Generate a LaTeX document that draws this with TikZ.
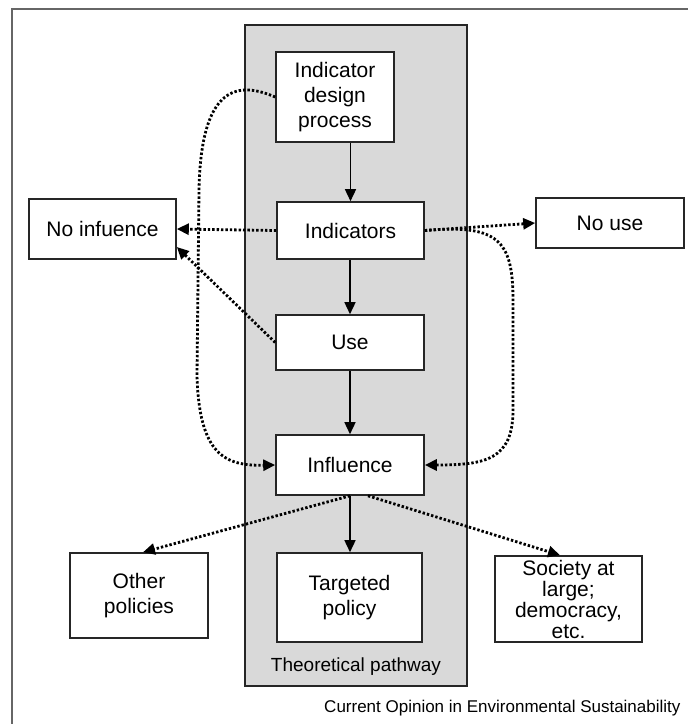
\documentclass[tikz,border=0pt]{standalone}
\usepackage{fontspec}
\setmainfont{Liberation Sans}
\usetikzlibrary{arrows.meta}
\begin{document}
\begin{tikzpicture}[x=1pt,y=-1pt,
  box/.style={draw=black!85,line width=1.6pt,fill=white,align=center,
    inner sep=0pt,font=\fontsize{21}{25}\selectfont},
  solidarrow/.style={line width=1.5pt,-{Triangle[length=12pt,width=11pt]}},
  dotarrow/.style={line width=2.8pt,dash pattern=on 2.4pt off 2pt,
    -{Triangle[length=12pt,width=11pt]}}]
\useasboundingbox (0,0) rectangle (688,724);
% outer frame
\draw[black!60,line width=1.2pt] (12,724) -- (12,9) -- (688,9);
% theoretical pathway panel
\node[draw=black!85,line width=1.8pt,fill=gray!30,minimum width=222pt,minimum height=661pt,inner sep=0pt]
  (panel) at (356,355.5) {};
\node[font=\fontsize{19}{22}\selectfont] (paneltitle) at (356,667) {Theoretical pathway};
% boxes
\node[box,minimum width=118pt,minimum height=90pt] (design) at (335,97) {Indicator\\design\\process};
\node[box,minimum width=147pt,minimum height=57pt] (ind) at (350.5,230.5) {Indicators};
\node[box,minimum width=147pt,minimum height=60pt] (noinf) at (102.5,229) {No infuence};
\node[box,minimum width=148pt,minimum height=50pt] (nouse) at (610,223) {No use};
\node[box,minimum width=148pt,minimum height=55pt] (use) at (350,342.5) {Use};
\node[box,minimum width=148pt,minimum height=60pt] (infl) at (350,465) {Influence};
\node[box,minimum width=138pt,minimum height=85pt] (other) at (139,595.5) {Other\\policies};
\node[box,minimum width=145pt,minimum height=89pt] (target) at (349.5,597.5) {Targeted\\policy};
\node[box,minimum width=147pt,minimum height=86pt,font=\fontsize{21}{21}\selectfont] (society) at (568.5,599) {Society at\\large;\\democracy,\\etc.};
% caption
\node[anchor=base east,font=\fontsize{17}{20}\selectfont] (caption) at (684,712) {Current Opinion in Environmental Sustainability};
% solid pathway
\draw[solidarrow] (ind.north |- design.south) -- (ind.north);
\draw[solidarrow] (ind.south -| use.north) -- (use.north);
\draw[solidarrow] (use.south) -- (infl.north);
\draw[solidarrow] (infl.south) -- (infl.south |- target.north);
% dotted connectors
\draw[dotarrow] (ind.west) -- (noinf.east);
\draw[dotarrow] (use.west) -- ([yshift=-18pt]noinf.east);
\draw[dotarrow] (ind.east) -- (nouse.west);
\draw[dotarrow] (design.west) .. controls (240,82) and (201,82) .. (199,190)
  -- (197,375) .. controls (199,455) and (225,466) .. (infl.west);
\draw[dotarrow] (ind.east) .. controls (498,224) and (513,240) .. (513,300)
  -- (513,410) .. controls (513,460) and (485,465) .. (infl.east);
\draw[dotarrow] (infl.south) -- ([xshift=4pt]other.north);
\draw[dotarrow] ([xshift=18pt]infl.south) -- ([xshift=-8.5pt]society.north);
\end{tikzpicture}
\end{document}
